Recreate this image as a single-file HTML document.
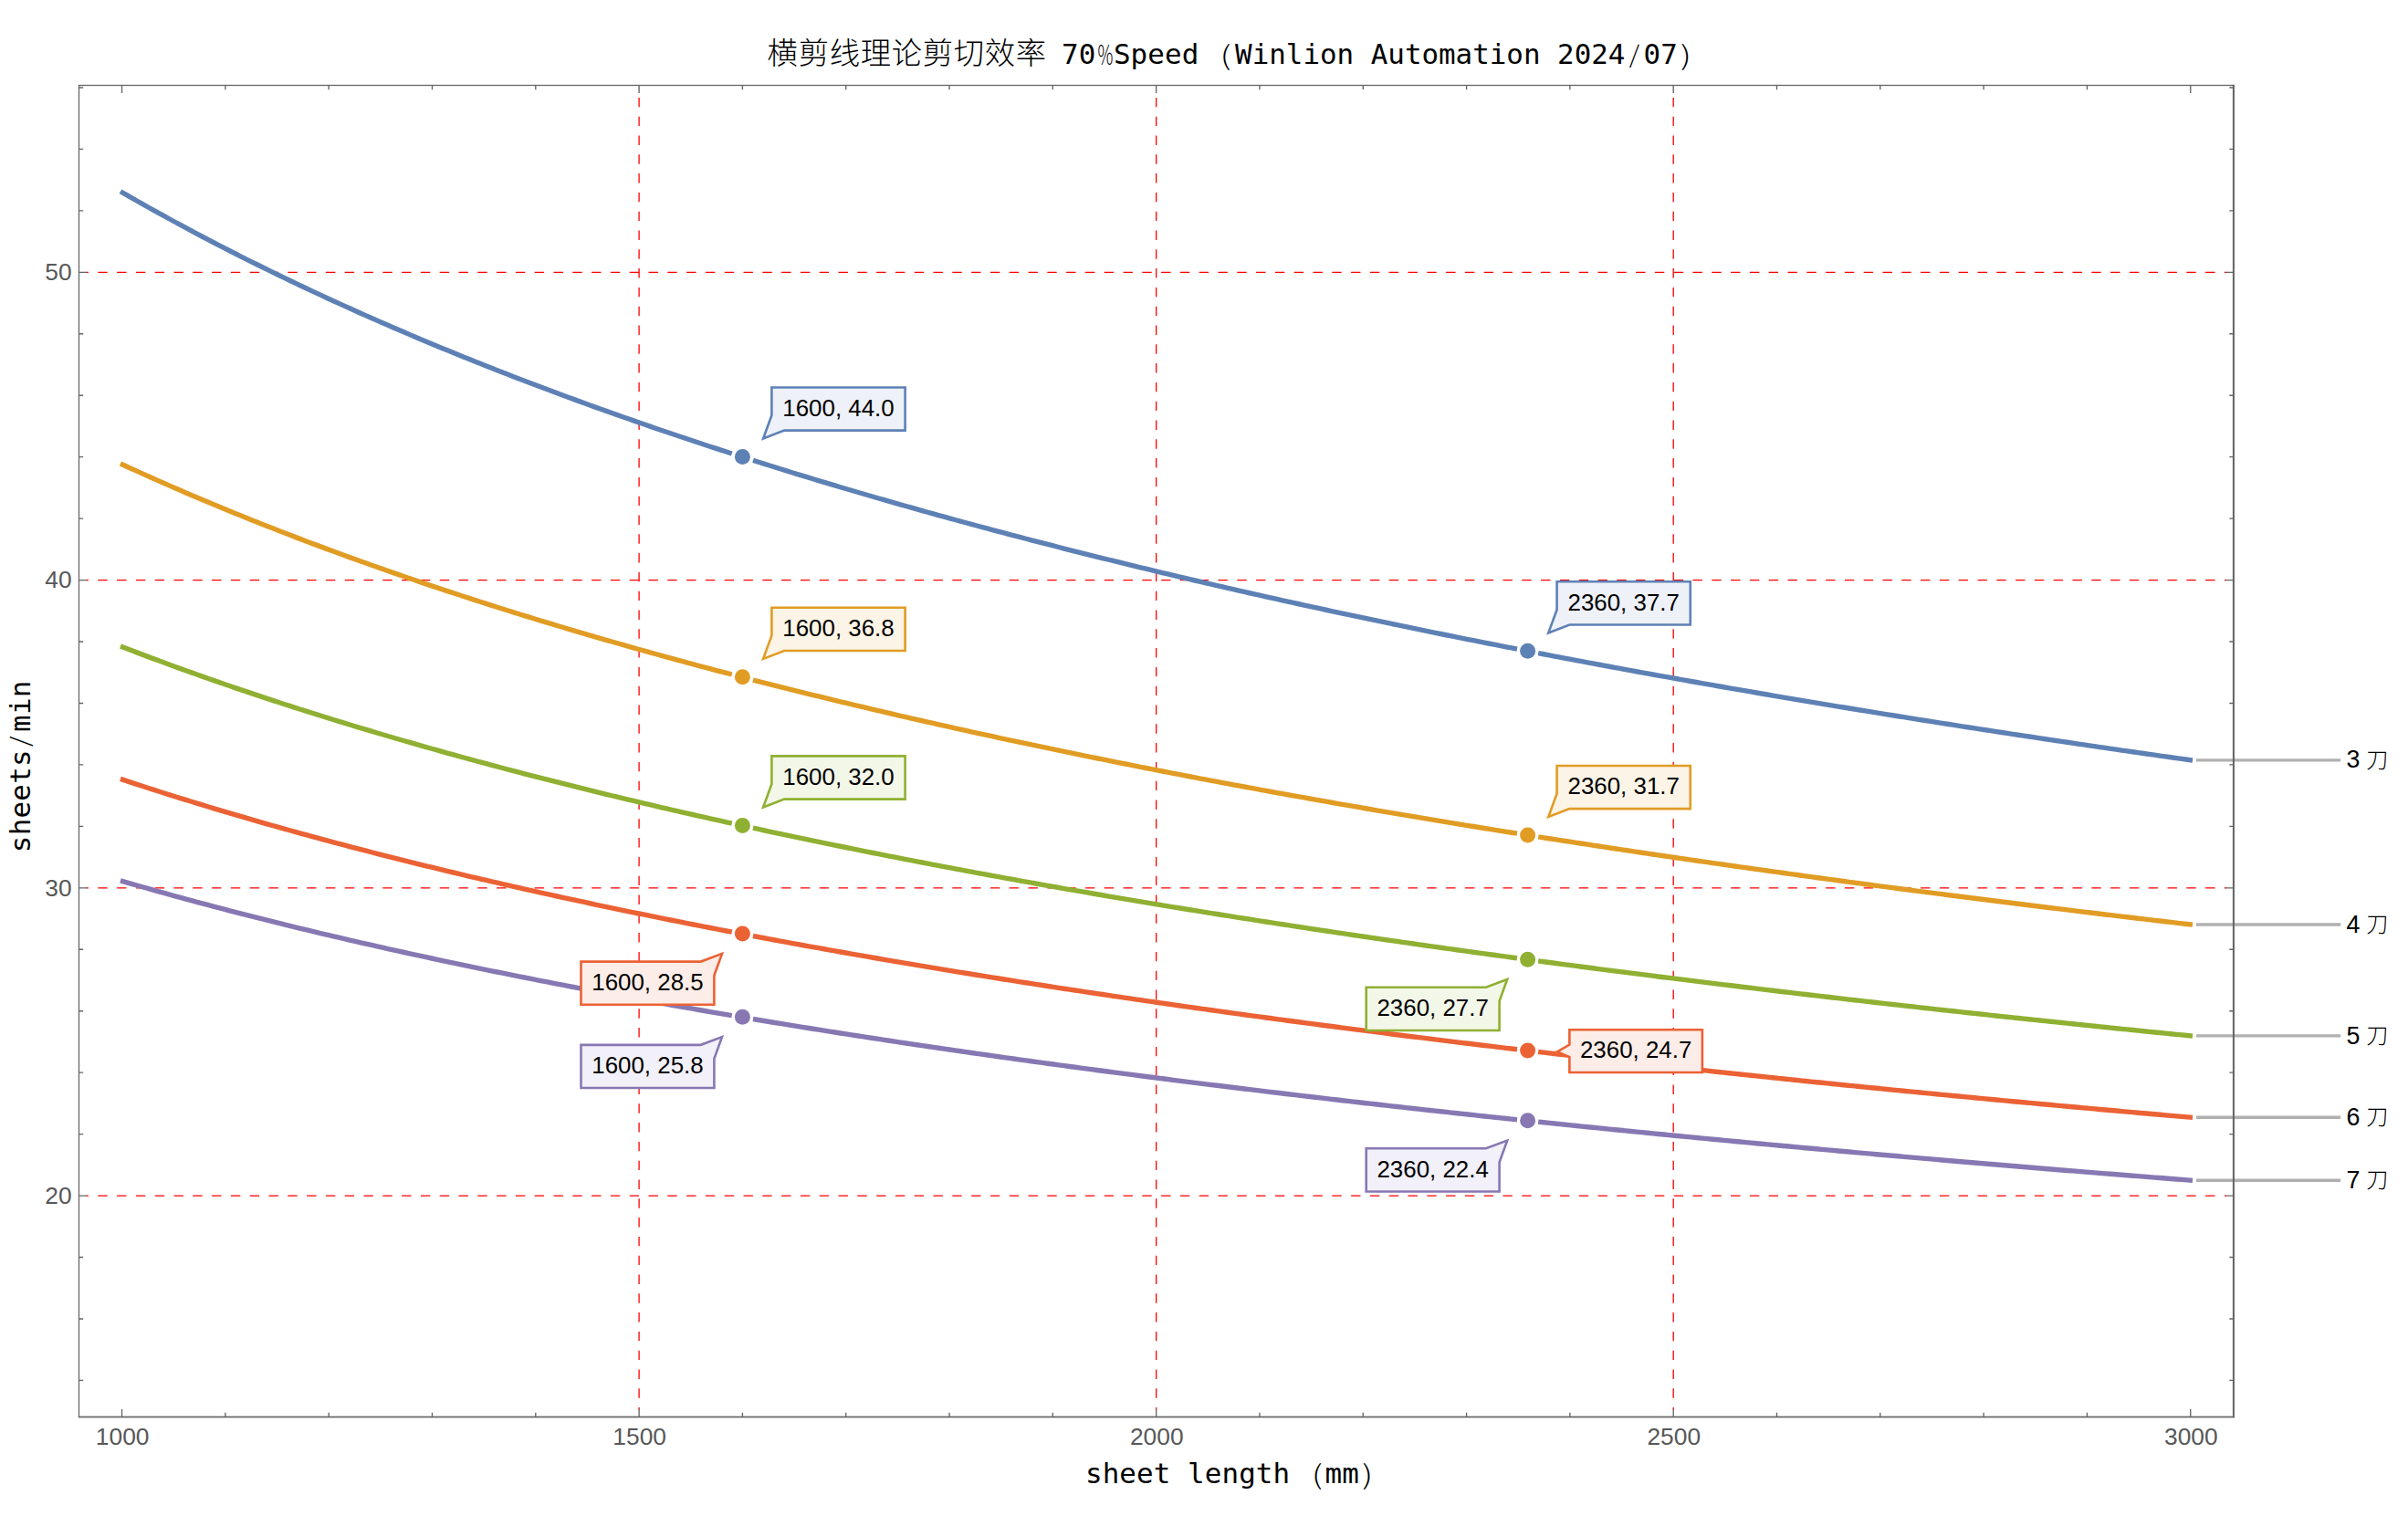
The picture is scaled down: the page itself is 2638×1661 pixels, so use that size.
<!DOCTYPE html>
<html lang="zh"><head><meta charset="utf-8"><title>横剪线理论剪切效率</title>
<style>html,body{margin:0;padding:0;background:#fff;overflow:hidden}svg{display:block}text{white-space:pre}</style></head><body>
<svg width="2638" height="1661" viewBox="0 0 2638 1661">
<rect width="2638" height="1661" fill="#fff"/>
<g stroke="#ff0000" stroke-width="1.3" stroke-dasharray="10.4 10.4" stroke-dashoffset="8.0" fill="none">
<path d="M94.50 298.40H2439.00"/>
<path d="M94.50 635.65H2439.00"/>
<path d="M94.50 972.90H2439.00"/>
<path d="M94.50 1310.15H2439.00"/>
<path d="M700.10 1544.50V101.50"/>
<path d="M1266.65 1544.50V101.50"/>
<path d="M1833.20 1544.50V101.50"/>
</g>
<g fill="none" stroke-width="5.4" stroke-linecap="butt" stroke-linejoin="round">
<path stroke="#5e81b5" d="M131.95 209.74L137.93 213.19L143.91 216.62L149.89 220.02L155.87 223.41L161.85 226.77L167.83 230.11L173.82 233.42L179.80 236.72L185.78 240.00L191.76 243.25L197.74 246.49L203.72 249.71L209.70 252.90L215.68 256.08L221.66 259.24L227.64 262.37L233.62 265.49L239.60 268.59L245.59 271.68L251.57 274.74L257.55 277.78L263.53 280.81L269.51 283.82L275.49 286.81L281.47 289.78L287.45 292.74L293.43 295.68L299.41 298.60L305.39 301.51L311.37 304.40L317.35 307.27L323.34 310.13L329.32 312.97L335.30 315.79L341.28 318.60L347.26 321.39L353.24 324.17L359.22 326.93L365.20 329.68L371.18 332.41L377.16 335.13L383.14 337.83L389.12 340.52L395.11 343.19L401.09 345.85L407.07 348.49L413.05 351.12L419.03 353.74L425.01 356.34L430.99 358.93L436.97 361.51L442.95 364.07L448.93 366.62L454.91 369.15L460.89 371.67L466.87 374.18L472.86 376.68L478.84 379.16L484.82 381.63L490.80 384.09L496.78 386.53L502.76 388.97L508.74 391.39L514.72 393.80L520.70 396.19L526.68 398.58L532.66 400.95L538.64 403.31L544.63 405.66L550.61 408.00L556.59 410.33L562.57 412.65L568.55 414.95L574.53 417.24L580.51 419.53L586.49 421.80L592.47 424.06L598.45 426.31L604.43 428.55L610.41 430.78L616.40 432.99L622.38 435.20L628.36 437.40L634.34 439.59L640.32 441.76L646.30 443.93L652.28 446.09L658.26 448.23L664.24 450.37L670.22 452.50L676.20 454.62L682.18 456.72L688.16 458.82L694.15 460.91L700.13 462.99L706.11 465.06L712.09 467.12L718.07 469.18L724.05 471.22L730.03 473.25L736.01 475.28L741.99 477.29L747.97 479.30L753.95 481.30L759.93 483.29L765.92 485.27L771.90 487.24L777.88 489.21L783.86 491.16L789.84 493.11L795.82 495.05L801.80 496.98M825.00 504.39L830.98 506.28L836.96 508.17L842.94 510.04L848.91 511.91L854.89 513.77L860.87 515.62L866.85 517.46L872.83 519.30L878.81 521.13L884.79 522.95L890.76 524.76L896.74 526.57L902.72 528.37L908.70 530.16L914.68 531.95L920.66 533.73L926.64 535.50L932.61 537.26L938.59 539.02L944.57 540.77L950.55 542.51L956.53 544.25L962.51 545.98L968.49 547.70L974.46 549.41L980.44 551.12L986.42 552.82L992.40 554.52L998.38 556.21L1004.36 557.89L1010.34 559.57L1016.31 561.24L1022.29 562.90L1028.27 564.56L1034.25 566.21L1040.23 567.86L1046.21 569.49L1052.19 571.13L1058.16 572.75L1064.14 574.37L1070.12 575.99L1076.10 577.59L1082.08 579.20L1088.06 580.79L1094.04 582.38L1100.01 583.97L1105.99 585.55L1111.97 587.12L1117.95 588.69L1123.93 590.25L1129.91 591.80L1135.89 593.35L1141.86 594.90L1147.84 596.43L1153.82 597.97L1159.80 599.50L1165.78 601.02L1171.76 602.53L1177.74 604.05L1183.71 605.55L1189.69 607.05L1195.67 608.55L1201.65 610.04L1207.63 611.52L1213.61 613.00L1219.59 614.48L1225.56 615.95L1231.54 617.41L1237.52 618.87L1243.50 620.32L1249.48 621.77L1255.46 623.22L1261.44 624.66L1267.41 626.09L1273.39 627.52L1279.37 628.95L1285.35 630.36L1291.33 631.78L1297.31 633.19L1303.29 634.59L1309.26 636.00L1315.24 637.39L1321.22 638.78L1327.20 640.17L1333.18 641.55L1339.16 642.93L1345.14 644.30L1351.11 645.67L1357.09 647.03L1363.07 648.39L1369.05 649.75L1375.03 651.10L1381.01 652.44L1386.99 653.78L1392.96 655.12L1398.94 656.45L1404.92 657.78L1410.90 659.10L1416.88 660.42L1422.86 661.74L1428.84 663.05L1434.81 664.36L1440.79 665.66L1446.77 666.96L1452.75 668.25L1458.73 669.54L1464.71 670.83L1470.69 672.11L1476.66 673.39L1482.64 674.66L1488.62 675.94L1494.60 677.20L1500.58 678.46L1506.56 679.72L1512.54 680.98L1518.51 682.23L1524.49 683.47L1530.47 684.72L1536.45 685.96L1542.43 687.19L1548.41 688.42L1554.39 689.65L1560.36 690.87L1566.34 692.09L1572.32 693.31L1578.30 694.52L1584.28 695.73L1590.26 696.94L1596.24 698.14L1602.21 699.34L1608.19 700.53L1614.17 701.72L1620.15 702.91L1626.13 704.09L1632.11 705.27L1638.09 706.45L1644.06 707.62L1650.04 708.79L1656.02 709.96L1662.00 711.12M1685.20 715.60L1691.17 716.75L1697.15 717.89L1703.12 719.03L1709.09 720.16L1715.07 721.30L1721.04 722.42L1727.02 723.55L1732.99 724.67L1738.96 725.79L1744.94 726.91L1750.91 728.02L1756.88 729.13L1762.86 730.24L1768.83 731.34L1774.81 732.44L1780.78 733.54L1786.75 734.63L1792.73 735.72L1798.70 736.81L1804.67 737.90L1810.65 738.98L1816.62 740.06L1822.60 741.13L1828.57 742.20L1834.54 743.27L1840.52 744.34L1846.49 745.40L1852.46 746.47L1858.44 747.52L1864.41 748.58L1870.39 749.63L1876.36 750.68L1882.33 751.73L1888.31 752.77L1894.28 753.81L1900.25 754.85L1906.23 755.88L1912.20 756.92L1918.18 757.95L1924.15 758.97L1930.12 760.00L1936.10 761.02L1942.07 762.04L1948.05 763.05L1954.02 764.07L1959.99 765.08L1965.97 766.08L1971.94 767.09L1977.91 768.09L1983.89 769.09L1989.86 770.09L1995.84 771.08L2001.81 772.07L2007.78 773.06L2013.76 774.05L2019.73 775.03L2025.70 776.01L2031.68 776.99L2037.65 777.97L2043.62 778.94L2049.60 779.92L2055.57 780.88L2061.55 781.85L2067.52 782.81L2073.49 783.78L2079.47 784.73L2085.44 785.69L2091.41 786.64L2097.39 787.60L2103.36 788.55L2109.34 789.49L2115.31 790.44L2121.28 791.38L2127.26 792.32L2133.23 793.25L2139.20 794.19L2145.18 795.12L2151.15 796.05L2157.13 796.98L2163.10 797.90L2169.07 798.83L2175.05 799.75L2181.02 800.67L2186.99 801.58L2192.97 802.50L2198.94 803.41L2204.92 804.32L2210.89 805.23L2216.86 806.13L2222.84 807.03L2228.81 807.93L2234.79 808.83L2240.76 809.73L2246.73 810.62L2252.71 811.51L2258.68 812.40L2264.65 813.29L2270.63 814.18L2276.60 815.06L2282.57 815.94L2288.55 816.82L2294.52 817.70L2300.50 818.57L2306.47 819.44L2312.44 820.31L2318.42 821.18L2324.39 822.05L2330.37 822.91L2336.34 823.77L2342.31 824.63L2348.29 825.49L2354.26 826.35L2360.23 827.20L2366.21 828.05L2372.18 828.90L2378.16 829.75L2384.13 830.60L2390.10 831.44L2396.08 832.28L2402.05 833.12"/>
<path stroke="#e19c24" d="M131.95 507.94L137.93 510.70L143.91 513.44L149.89 516.16L155.87 518.86L161.85 521.55L167.83 524.22L173.82 526.88L179.80 529.52L185.78 532.14L191.76 534.75L197.74 537.34L203.72 539.91L209.70 542.47L215.68 545.01L221.66 547.54L227.64 550.06L233.62 552.56L239.60 555.04L245.59 557.51L251.57 559.97L257.55 562.41L263.53 564.83L269.51 567.25L275.49 569.65L281.47 572.03L287.45 574.40L293.43 576.76L299.41 579.11L305.39 581.44L311.37 583.76L317.35 586.06L323.34 588.36L329.32 590.64L335.30 592.91L341.28 595.16L347.26 597.40L353.24 599.64L359.22 601.86L365.20 604.06L371.18 606.26L377.16 608.44L383.14 610.61L389.12 612.77L395.11 614.92L401.09 617.06L407.07 619.19L413.05 621.30L419.03 623.41L425.01 625.50L430.99 627.58L436.97 629.66L442.95 631.72L448.93 633.77L454.91 635.81L460.89 637.84L466.87 639.86L472.86 641.87L478.84 643.87L484.82 645.86L490.80 647.84L496.78 649.81L502.76 651.77L508.74 653.72L514.72 655.66L520.70 657.59L526.68 659.51L532.66 661.43L538.64 663.33L544.63 665.23L550.61 667.11L556.59 668.99L562.57 670.86L568.55 672.71L574.53 674.56L580.51 676.41L586.49 678.24L592.47 680.06L598.45 681.88L604.43 683.69L610.41 685.48L616.40 687.27L622.38 689.06L628.36 690.83L634.34 692.60L640.32 694.36L646.30 696.11L652.28 697.85L658.26 699.58L664.24 701.31L670.22 703.03L676.20 704.74L682.18 706.44L688.16 708.14L694.15 709.83L700.13 711.51L706.11 713.18L712.09 714.85L718.07 716.51L724.05 718.16L730.03 719.80L736.01 721.44L741.99 723.07L747.97 724.70L753.95 726.31L759.93 727.92L765.92 729.53L771.90 731.12L777.88 732.71L783.86 734.29L789.84 735.87L795.82 737.44L801.80 739.00M825.00 745.01L830.98 746.54L836.96 748.06L842.94 749.58L848.91 751.09L854.89 752.60L860.87 754.10L866.85 755.59L872.83 757.08L878.81 758.56L884.79 760.04L890.76 761.51L896.74 762.98L902.72 764.43L908.70 765.89L914.68 767.33L920.66 768.78L926.64 770.21L932.61 771.64L938.59 773.07L944.57 774.49L950.55 775.90L956.53 777.31L962.51 778.71L968.49 780.11L974.46 781.50L980.44 782.89L986.42 784.27L992.40 785.65L998.38 787.02L1004.36 788.38L1010.34 789.75L1016.31 791.10L1022.29 792.45L1028.27 793.80L1034.25 795.14L1040.23 796.47L1046.21 797.80L1052.19 799.13L1058.16 800.45L1064.14 801.77L1070.12 803.08L1076.10 804.38L1082.08 805.69L1088.06 806.98L1094.04 808.28L1100.01 809.56L1105.99 810.85L1111.97 812.12L1117.95 813.40L1123.93 814.67L1129.91 815.93L1135.89 817.19L1141.86 818.45L1147.84 819.70L1153.82 820.95L1159.80 822.19L1165.78 823.43L1171.76 824.66L1177.74 825.89L1183.71 827.12L1189.69 828.34L1195.67 829.55L1201.65 830.77L1207.63 831.97L1213.61 833.18L1219.59 834.38L1225.56 835.57L1231.54 836.77L1237.52 837.95L1243.50 839.14L1249.48 840.32L1255.46 841.49L1261.44 842.66L1267.41 843.83L1273.39 845.00L1279.37 846.16L1285.35 847.31L1291.33 848.46L1297.31 849.61L1303.29 850.76L1309.26 851.90L1315.24 853.03L1321.22 854.17L1327.20 855.30L1333.18 856.42L1339.16 857.55L1345.14 858.66L1351.11 859.78L1357.09 860.89L1363.07 862.00L1369.05 863.10L1375.03 864.20L1381.01 865.30L1386.99 866.39L1392.96 867.48L1398.94 868.57L1404.92 869.65L1410.90 870.73L1416.88 871.81L1422.86 872.88L1428.84 873.95L1434.81 875.02L1440.79 876.08L1446.77 877.14L1452.75 878.19L1458.73 879.25L1464.71 880.30L1470.69 881.34L1476.66 882.39L1482.64 883.43L1488.62 884.46L1494.60 885.50L1500.58 886.53L1506.56 887.55L1512.54 888.58L1518.51 889.60L1524.49 890.62L1530.47 891.63L1536.45 892.64L1542.43 893.65L1548.41 894.66L1554.39 895.66L1560.36 896.66L1566.34 897.65L1572.32 898.65L1578.30 899.64L1584.28 900.62L1590.26 901.61L1596.24 902.59L1602.21 903.57L1608.19 904.55L1614.17 905.52L1620.15 906.49L1626.13 907.46L1632.11 908.42L1638.09 909.38L1644.06 910.34L1650.04 911.30L1656.02 912.25L1662.00 913.20M1685.20 916.86L1691.17 917.80L1697.15 918.73L1703.12 919.66L1709.09 920.59L1715.07 921.52L1721.04 922.44L1727.02 923.36L1732.99 924.28L1738.96 925.19L1744.94 926.11L1750.91 927.02L1756.88 927.93L1762.86 928.83L1768.83 929.73L1774.81 930.63L1780.78 931.53L1786.75 932.43L1792.73 933.32L1798.70 934.21L1804.67 935.10L1810.65 935.98L1816.62 936.87L1822.60 937.75L1828.57 938.62L1834.54 939.50L1840.52 940.37L1846.49 941.24L1852.46 942.11L1858.44 942.98L1864.41 943.84L1870.39 944.70L1876.36 945.56L1882.33 946.42L1888.31 947.27L1894.28 948.13L1900.25 948.98L1906.23 949.82L1912.20 950.67L1918.18 951.51L1924.15 952.35L1930.12 953.19L1936.10 954.03L1942.07 954.86L1948.05 955.70L1954.02 956.53L1959.99 957.35L1965.97 958.18L1971.94 959.00L1977.91 959.82L1983.89 960.64L1989.86 961.46L1995.84 962.28L2001.81 963.09L2007.78 963.90L2013.76 964.71L2019.73 965.51L2025.70 966.32L2031.68 967.12L2037.65 967.92L2043.62 968.72L2049.60 969.52L2055.57 970.31L2061.55 971.10L2067.52 971.89L2073.49 972.68L2079.47 973.47L2085.44 974.25L2091.41 975.03L2097.39 975.81L2103.36 976.59L2109.34 977.37L2115.31 978.14L2121.28 978.92L2127.26 979.69L2133.23 980.46L2139.20 981.22L2145.18 981.99L2151.15 982.75L2157.13 983.51L2163.10 984.27L2169.07 985.03L2175.05 985.78L2181.02 986.54L2186.99 987.29L2192.97 988.04L2198.94 988.79L2204.92 989.53L2210.89 990.28L2216.86 991.02L2222.84 991.76L2228.81 992.50L2234.79 993.24L2240.76 993.98L2246.73 994.71L2252.71 995.44L2258.68 996.17L2264.65 996.90L2270.63 997.63L2276.60 998.35L2282.57 999.08L2288.55 999.80L2294.52 1000.52L2300.50 1001.24L2306.47 1001.95L2312.44 1002.67L2318.42 1003.38L2324.39 1004.09L2330.37 1004.80L2336.34 1005.51L2342.31 1006.22L2348.29 1006.92L2354.26 1007.63L2360.23 1008.33L2366.21 1009.03L2372.18 1009.73L2378.16 1010.42L2384.13 1011.12L2390.10 1011.81L2396.08 1012.50L2402.05 1013.19"/>
<path stroke="#8fb032" d="M131.95 708.01L137.93 710.31L143.91 712.60L149.89 714.88L155.87 717.14L161.85 719.39L167.83 721.62L173.82 723.84L179.80 726.05L185.78 728.24L191.76 730.42L197.74 732.59L203.72 734.74L209.70 736.89L215.68 739.01L221.66 741.13L227.64 743.24L233.62 745.33L239.60 747.41L245.59 749.48L251.57 751.53L257.55 753.58L263.53 755.61L269.51 757.63L275.49 759.64L281.47 761.64L287.45 763.63L293.43 765.61L299.41 767.57L305.39 769.53L311.37 771.47L317.35 773.41L323.34 775.33L329.32 777.24L335.30 779.15L341.28 781.04L347.26 782.92L353.24 784.79L359.22 786.65L365.20 788.51L371.18 790.35L377.16 792.18L383.14 794.01L389.12 795.82L395.11 797.62L401.09 799.42L407.07 801.21L413.05 802.98L419.03 804.75L425.01 806.51L430.99 808.26L436.97 810.00L442.95 811.73L448.93 813.45L454.91 815.17L460.89 816.88L466.87 818.57L472.86 820.26L478.84 821.95L484.82 823.62L490.80 825.28L496.78 826.94L502.76 828.59L508.74 830.23L514.72 831.86L520.70 833.49L526.68 835.11L532.66 836.71L538.64 838.32L544.63 839.91L550.61 841.50L556.59 843.08L562.57 844.65L568.55 846.22L574.53 847.77L580.51 849.32L586.49 850.87L592.47 852.40L598.45 853.93L604.43 855.45L610.41 856.97L616.40 858.48L622.38 859.98L628.36 861.47L634.34 862.96L640.32 864.44L646.30 865.92L652.28 867.39L658.26 868.85L664.24 870.30L670.22 871.75L676.20 873.20L682.18 874.63L688.16 876.06L694.15 877.49L700.13 878.90L706.11 880.32L712.09 881.72L718.07 883.12L724.05 884.51L730.03 885.90L736.01 887.28L741.99 888.66L747.97 890.03L753.95 891.39L759.93 892.75L765.92 894.11L771.90 895.45L777.88 896.80L783.86 898.13L789.84 899.46L795.82 900.79L801.80 902.11M825.00 907.18L830.98 908.47L836.96 909.76L842.94 911.04L848.91 912.32L854.89 913.59L860.87 914.86L866.85 916.12L872.83 917.38L878.81 918.63L884.79 919.88L890.76 921.12L896.74 922.36L902.72 923.60L908.70 924.82L914.68 926.05L920.66 927.27L926.64 928.48L932.61 929.69L938.59 930.90L944.57 932.10L950.55 933.29L956.53 934.48L962.51 935.67L968.49 936.85L974.46 938.03L980.44 939.20L986.42 940.37L992.40 941.54L998.38 942.70L1004.36 943.85L1010.34 945.01L1016.31 946.15L1022.29 947.30L1028.27 948.44L1034.25 949.57L1040.23 950.70L1046.21 951.83L1052.19 952.95L1058.16 954.07L1064.14 955.18L1070.12 956.29L1076.10 957.40L1082.08 958.50L1088.06 959.60L1094.04 960.70L1100.01 961.79L1105.99 962.87L1111.97 963.96L1117.95 965.04L1123.93 966.11L1129.91 967.18L1135.89 968.25L1141.86 969.32L1147.84 970.38L1153.82 971.43L1159.80 972.49L1165.78 973.54L1171.76 974.58L1177.74 975.62L1183.71 976.66L1189.69 977.70L1195.67 978.73L1201.65 979.76L1207.63 980.78L1213.61 981.80L1219.59 982.82L1225.56 983.84L1231.54 984.85L1237.52 985.85L1243.50 986.86L1249.48 987.86L1255.46 988.86L1261.44 989.85L1267.41 990.84L1273.39 991.83L1279.37 992.81L1285.35 993.79L1291.33 994.77L1297.31 995.75L1303.29 996.72L1309.26 997.69L1315.24 998.65L1321.22 999.61L1327.20 1000.57L1333.18 1001.53L1339.16 1002.48L1345.14 1003.43L1351.11 1004.38L1357.09 1005.32L1363.07 1006.26L1369.05 1007.20L1375.03 1008.13L1381.01 1009.07L1386.99 1009.99L1392.96 1010.92L1398.94 1011.84L1404.92 1012.76L1410.90 1013.68L1416.88 1014.59L1422.86 1015.51L1428.84 1016.41L1434.81 1017.32L1440.79 1018.22L1446.77 1019.12L1452.75 1020.02L1458.73 1020.92L1464.71 1021.81L1470.69 1022.70L1476.66 1023.58L1482.64 1024.47L1488.62 1025.35L1494.60 1026.23L1500.58 1027.10L1506.56 1027.98L1512.54 1028.85L1518.51 1029.71L1524.49 1030.58L1530.47 1031.44L1536.45 1032.30L1542.43 1033.16L1548.41 1034.01L1554.39 1034.87L1560.36 1035.72L1566.34 1036.56L1572.32 1037.41L1578.30 1038.25L1584.28 1039.09L1590.26 1039.93L1596.24 1040.76L1602.21 1041.60L1608.19 1042.43L1614.17 1043.26L1620.15 1044.08L1626.13 1044.90L1632.11 1045.72L1638.09 1046.54L1644.06 1047.36L1650.04 1048.17L1656.02 1048.98L1662.00 1049.79M1685.20 1052.91L1691.17 1053.71L1697.15 1054.50L1703.12 1055.30L1709.09 1056.09L1715.07 1056.87L1721.04 1057.66L1727.02 1058.44L1732.99 1059.23L1738.96 1060.01L1744.94 1060.78L1750.91 1061.56L1756.88 1062.33L1762.86 1063.10L1768.83 1063.87L1774.81 1064.64L1780.78 1065.40L1786.75 1066.16L1792.73 1066.93L1798.70 1067.68L1804.67 1068.44L1810.65 1069.19L1816.62 1069.95L1822.60 1070.70L1828.57 1071.44L1834.54 1072.19L1840.52 1072.94L1846.49 1073.68L1852.46 1074.42L1858.44 1075.16L1864.41 1075.89L1870.39 1076.63L1876.36 1077.36L1882.33 1078.09L1888.31 1078.82L1894.28 1079.54L1900.25 1080.27L1906.23 1080.99L1912.20 1081.71L1918.18 1082.43L1924.15 1083.15L1930.12 1083.86L1936.10 1084.58L1942.07 1085.29L1948.05 1086.00L1954.02 1086.71L1959.99 1087.41L1965.97 1088.12L1971.94 1088.82L1977.91 1089.52L1983.89 1090.22L1989.86 1090.92L1995.84 1091.61L2001.81 1092.30L2007.78 1093.00L2013.76 1093.69L2019.73 1094.37L2025.70 1095.06L2031.68 1095.75L2037.65 1096.43L2043.62 1097.11L2049.60 1097.79L2055.57 1098.47L2061.55 1099.14L2067.52 1099.82L2073.49 1100.49L2079.47 1101.16L2085.44 1101.83L2091.41 1102.50L2097.39 1103.16L2103.36 1103.83L2109.34 1104.49L2115.31 1105.15L2121.28 1105.81L2127.26 1106.47L2133.23 1107.13L2139.20 1107.78L2145.18 1108.44L2151.15 1109.09L2157.13 1109.74L2163.10 1110.39L2169.07 1111.03L2175.05 1111.68L2181.02 1112.32L2186.99 1112.96L2192.97 1113.60L2198.94 1114.24L2204.92 1114.88L2210.89 1115.52L2216.86 1116.15L2222.84 1116.78L2228.81 1117.42L2234.79 1118.05L2240.76 1118.67L2246.73 1119.30L2252.71 1119.93L2258.68 1120.55L2264.65 1121.17L2270.63 1121.79L2276.60 1122.41L2282.57 1123.03L2288.55 1123.65L2294.52 1124.26L2300.50 1124.88L2306.47 1125.49L2312.44 1126.10L2318.42 1126.71L2324.39 1127.32L2330.37 1127.93L2336.34 1128.53L2342.31 1129.14L2348.29 1129.74L2354.26 1130.34L2360.23 1130.94L2366.21 1131.54L2372.18 1132.13L2378.16 1132.73L2384.13 1133.32L2390.10 1133.92L2396.08 1134.51L2402.05 1135.10"/>
<path stroke="#eb6235" d="M131.95 853.43L137.93 855.41L143.91 857.38L149.89 859.33L155.87 861.28L161.85 863.21L167.83 865.14L173.82 867.05L179.80 868.95L185.78 870.84L191.76 872.71L197.74 874.58L203.72 876.44L209.70 878.28L215.68 880.11L221.66 881.94L227.64 883.75L233.62 885.55L239.60 887.35L245.59 889.13L251.57 890.90L257.55 892.66L263.53 894.42L269.51 896.16L275.49 897.89L281.47 899.62L287.45 901.33L293.43 903.03L299.41 904.73L305.39 906.42L311.37 908.09L317.35 909.76L323.34 911.42L329.32 913.07L335.30 914.71L341.28 916.35L347.26 917.97L353.24 919.59L359.22 921.19L365.20 922.79L371.18 924.38L377.16 925.97L383.14 927.54L389.12 929.11L395.11 930.67L401.09 932.22L407.07 933.76L413.05 935.29L419.03 936.82L425.01 938.34L430.99 939.85L436.97 941.36L442.95 942.85L448.93 944.34L454.91 945.83L460.89 947.30L466.87 948.77L472.86 950.23L478.84 951.68L484.82 953.13L490.80 954.57L496.78 956.00L502.76 957.43L508.74 958.85L514.72 960.26L520.70 961.67L526.68 963.07L532.66 964.46L538.64 965.84L544.63 967.22L550.61 968.60L556.59 969.96L562.57 971.33L568.55 972.68L574.53 974.03L580.51 975.37L586.49 976.71L592.47 978.04L598.45 979.36L604.43 980.68L610.41 981.99L616.40 983.30L622.38 984.60L628.36 985.89L634.34 987.18L640.32 988.47L646.30 989.74L652.28 991.02L658.26 992.28L664.24 993.54L670.22 994.80L676.20 996.05L682.18 997.29L688.16 998.53L694.15 999.77L700.13 1001.00L706.11 1002.22L712.09 1003.44L718.07 1004.65L724.05 1005.86L730.03 1007.07L736.01 1008.26L741.99 1009.46L747.97 1010.65L753.95 1011.83L759.93 1013.01L765.92 1014.18L771.90 1015.35L777.88 1016.51L783.86 1017.67L789.84 1018.83L795.82 1019.98L801.80 1021.12M825.00 1025.52L830.98 1026.65L836.96 1027.76L842.94 1028.88L848.91 1029.99L854.89 1031.09L860.87 1032.19L866.85 1033.29L872.83 1034.38L878.81 1035.47L884.79 1036.55L890.76 1037.63L896.74 1038.71L902.72 1039.78L908.70 1040.85L914.68 1041.91L920.66 1042.97L926.64 1044.03L932.61 1045.08L938.59 1046.12L944.57 1047.17L950.55 1048.21L956.53 1049.24L962.51 1050.27L968.49 1051.30L974.46 1052.33L980.44 1053.35L986.42 1054.36L992.40 1055.37L998.38 1056.38L1004.36 1057.39L1010.34 1058.39L1016.31 1059.39L1022.29 1060.38L1028.27 1061.37L1034.25 1062.36L1040.23 1063.34L1046.21 1064.32L1052.19 1065.30L1058.16 1066.27L1064.14 1067.24L1070.12 1068.21L1076.10 1069.17L1082.08 1070.13L1088.06 1071.09L1094.04 1072.04L1100.01 1072.99L1105.99 1073.93L1111.97 1074.88L1117.95 1075.82L1123.93 1076.75L1129.91 1077.68L1135.89 1078.61L1141.86 1079.54L1147.84 1080.46L1153.82 1081.38L1159.80 1082.30L1165.78 1083.21L1171.76 1084.13L1177.74 1085.03L1183.71 1085.94L1189.69 1086.84L1195.67 1087.74L1201.65 1088.63L1207.63 1089.53L1213.61 1090.41L1219.59 1091.30L1225.56 1092.18L1231.54 1093.07L1237.52 1093.94L1243.50 1094.82L1249.48 1095.69L1255.46 1096.56L1261.44 1097.43L1267.41 1098.29L1273.39 1099.15L1279.37 1100.01L1285.35 1100.86L1291.33 1101.71L1297.31 1102.56L1303.29 1103.41L1309.26 1104.25L1315.24 1105.10L1321.22 1105.93L1327.20 1106.77L1333.18 1107.60L1339.16 1108.43L1345.14 1109.26L1351.11 1110.09L1357.09 1110.91L1363.07 1111.73L1369.05 1112.55L1375.03 1113.36L1381.01 1114.18L1386.99 1114.99L1392.96 1115.79L1398.94 1116.60L1404.92 1117.40L1410.90 1118.20L1416.88 1119.00L1422.86 1119.79L1428.84 1120.59L1434.81 1121.38L1440.79 1122.16L1446.77 1122.95L1452.75 1123.73L1458.73 1124.51L1464.71 1125.29L1470.69 1126.07L1476.66 1126.84L1482.64 1127.61L1488.62 1128.38L1494.60 1129.15L1500.58 1129.91L1506.56 1130.68L1512.54 1131.44L1518.51 1132.19L1524.49 1132.95L1530.47 1133.70L1536.45 1134.45L1542.43 1135.20L1548.41 1135.95L1554.39 1136.69L1560.36 1137.43L1566.34 1138.17L1572.32 1138.91L1578.30 1139.65L1584.28 1140.38L1590.26 1141.11L1596.24 1141.84L1602.21 1142.57L1608.19 1143.30L1614.17 1144.02L1620.15 1144.74L1626.13 1145.46L1632.11 1146.18L1638.09 1146.89L1644.06 1147.60L1650.04 1148.31L1656.02 1149.02L1662.00 1149.73M1685.20 1152.45L1691.17 1153.15L1697.15 1153.85L1703.12 1154.54L1709.09 1155.23L1715.07 1155.92L1721.04 1156.61L1727.02 1157.29L1732.99 1157.97L1738.96 1158.66L1744.94 1159.34L1750.91 1160.01L1756.88 1160.69L1762.86 1161.36L1768.83 1162.04L1774.81 1162.71L1780.78 1163.37L1786.75 1164.04L1792.73 1164.71L1798.70 1165.37L1804.67 1166.03L1810.65 1166.69L1816.62 1167.35L1822.60 1168.00L1828.57 1168.66L1834.54 1169.31L1840.52 1169.96L1846.49 1170.61L1852.46 1171.26L1858.44 1171.91L1864.41 1172.55L1870.39 1173.19L1876.36 1173.83L1882.33 1174.47L1888.31 1175.11L1894.28 1175.74L1900.25 1176.38L1906.23 1177.01L1912.20 1177.64L1918.18 1178.27L1924.15 1178.90L1930.12 1179.52L1936.10 1180.15L1942.07 1180.77L1948.05 1181.39L1954.02 1182.01L1959.99 1182.63L1965.97 1183.25L1971.94 1183.86L1977.91 1184.47L1983.89 1185.09L1989.86 1185.70L1995.84 1186.31L2001.81 1186.91L2007.78 1187.52L2013.76 1188.12L2019.73 1188.72L2025.70 1189.33L2031.68 1189.93L2037.65 1190.52L2043.62 1191.12L2049.60 1191.72L2055.57 1192.31L2061.55 1192.90L2067.52 1193.49L2073.49 1194.08L2079.47 1194.67L2085.44 1195.26L2091.41 1195.84L2097.39 1196.42L2103.36 1197.01L2109.34 1197.59L2115.31 1198.17L2121.28 1198.74L2127.26 1199.32L2133.23 1199.89L2139.20 1200.47L2145.18 1201.04L2151.15 1201.61L2157.13 1202.18L2163.10 1202.75L2169.07 1203.32L2175.05 1203.88L2181.02 1204.45L2186.99 1205.01L2192.97 1205.57L2198.94 1206.13L2204.92 1206.69L2210.89 1207.25L2216.86 1207.80L2222.84 1208.36L2228.81 1208.91L2234.79 1209.46L2240.76 1210.01L2246.73 1210.56L2252.71 1211.11L2258.68 1211.66L2264.65 1212.20L2270.63 1212.75L2276.60 1213.29L2282.57 1213.83L2288.55 1214.37L2294.52 1214.91L2300.50 1215.45L2306.47 1215.99L2312.44 1216.53L2318.42 1217.06L2324.39 1217.59L2330.37 1218.13L2336.34 1218.66L2342.31 1219.19L2348.29 1219.71L2354.26 1220.24L2360.23 1220.77L2366.21 1221.29L2372.18 1221.82L2378.16 1222.34L2384.13 1222.86L2390.10 1223.38L2396.08 1223.90L2402.05 1224.42"/>
<path stroke="#8778b3" d="M131.95 964.84L137.93 966.58L143.91 968.31L149.89 970.03L155.87 971.74L161.85 973.44L167.83 975.13L173.82 976.80L179.80 978.47L185.78 980.13L191.76 981.78L197.74 983.42L203.72 985.05L209.70 986.67L215.68 988.29L221.66 989.89L227.64 991.48L233.62 993.07L239.60 994.64L245.59 996.21L251.57 997.77L257.55 999.32L263.53 1000.86L269.51 1002.39L275.49 1003.92L281.47 1005.43L287.45 1006.94L293.43 1008.44L299.41 1009.93L305.39 1011.42L311.37 1012.89L317.35 1014.36L323.34 1015.82L329.32 1017.28L335.30 1018.72L341.28 1020.16L347.26 1021.59L353.24 1023.01L359.22 1024.43L365.20 1025.83L371.18 1027.24L377.16 1028.63L383.14 1030.02L389.12 1031.40L395.11 1032.77L401.09 1034.14L407.07 1035.49L413.05 1036.85L419.03 1038.19L425.01 1039.53L430.99 1040.86L436.97 1042.19L442.95 1043.51L448.93 1044.82L454.91 1046.13L460.89 1047.43L466.87 1048.73L472.86 1050.01L478.84 1051.30L484.82 1052.57L490.80 1053.84L496.78 1055.10L502.76 1056.36L508.74 1057.61L514.72 1058.86L520.70 1060.10L526.68 1061.34L532.66 1062.56L538.64 1063.79L544.63 1065.01L550.61 1066.22L556.59 1067.42L562.57 1068.62L568.55 1069.82L574.53 1071.01L580.51 1072.20L586.49 1073.38L592.47 1074.55L598.45 1075.72L604.43 1076.88L610.41 1078.04L616.40 1079.20L622.38 1080.34L628.36 1081.49L634.34 1082.63L640.32 1083.76L646.30 1084.89L652.28 1086.01L658.26 1087.13L664.24 1088.25L670.22 1089.36L676.20 1090.46L682.18 1091.56L688.16 1092.66L694.15 1093.75L700.13 1094.83L706.11 1095.92L712.09 1096.99L718.07 1098.07L724.05 1099.13L730.03 1100.20L736.01 1101.26L741.99 1102.31L747.97 1103.36L753.95 1104.41L759.93 1105.45L765.92 1106.49L771.90 1107.52L777.88 1108.55L783.86 1109.58L789.84 1110.60L795.82 1111.62L801.80 1112.63M825.00 1116.53L830.98 1117.52L836.96 1118.51L842.94 1119.49L848.91 1120.48L854.89 1121.45L860.87 1122.43L866.85 1123.40L872.83 1124.37L878.81 1125.33L884.79 1126.29L890.76 1127.25L896.74 1128.20L902.72 1129.15L908.70 1130.09L914.68 1131.03L920.66 1131.97L926.64 1132.91L932.61 1133.84L938.59 1134.76L944.57 1135.69L950.55 1136.61L956.53 1137.53L962.51 1138.44L968.49 1139.35L974.46 1140.26L980.44 1141.16L986.42 1142.06L992.40 1142.96L998.38 1143.85L1004.36 1144.74L1010.34 1145.63L1016.31 1146.52L1022.29 1147.40L1028.27 1148.27L1034.25 1149.15L1040.23 1150.02L1046.21 1150.89L1052.19 1151.76L1058.16 1152.62L1064.14 1153.48L1070.12 1154.34L1076.10 1155.19L1082.08 1156.04L1088.06 1156.89L1094.04 1157.73L1100.01 1158.57L1105.99 1159.41L1111.97 1160.25L1117.95 1161.08L1123.93 1161.91L1129.91 1162.74L1135.89 1163.56L1141.86 1164.39L1147.84 1165.20L1153.82 1166.02L1159.80 1166.83L1165.78 1167.65L1171.76 1168.45L1177.74 1169.26L1183.71 1170.06L1189.69 1170.86L1195.67 1171.66L1201.65 1172.45L1207.63 1173.25L1213.61 1174.04L1219.59 1174.82L1225.56 1175.61L1231.54 1176.39L1237.52 1177.17L1243.50 1177.94L1249.48 1178.72L1255.46 1179.49L1261.44 1180.26L1267.41 1181.03L1273.39 1181.79L1279.37 1182.55L1285.35 1183.31L1291.33 1184.07L1297.31 1184.82L1303.29 1185.57L1309.26 1186.32L1315.24 1187.07L1321.22 1187.82L1327.20 1188.56L1333.18 1189.30L1339.16 1190.04L1345.14 1190.77L1351.11 1191.50L1357.09 1192.24L1363.07 1192.96L1369.05 1193.69L1375.03 1194.42L1381.01 1195.14L1386.99 1195.86L1392.96 1196.57L1398.94 1197.29L1404.92 1198.00L1410.90 1198.71L1416.88 1199.42L1422.86 1200.13L1428.84 1200.83L1434.81 1201.54L1440.79 1202.24L1446.77 1202.94L1452.75 1203.63L1458.73 1204.33L1464.71 1205.02L1470.69 1205.71L1476.66 1206.40L1482.64 1207.08L1488.62 1207.76L1494.60 1208.45L1500.58 1209.13L1506.56 1209.80L1512.54 1210.48L1518.51 1211.15L1524.49 1211.83L1530.47 1212.49L1536.45 1213.16L1542.43 1213.83L1548.41 1214.49L1554.39 1215.15L1560.36 1215.82L1566.34 1216.47L1572.32 1217.13L1578.30 1217.78L1584.28 1218.44L1590.26 1219.09L1596.24 1219.74L1602.21 1220.38L1608.19 1221.03L1614.17 1221.67L1620.15 1222.31L1626.13 1222.95L1632.11 1223.59L1638.09 1224.23L1644.06 1224.86L1650.04 1225.50L1656.02 1226.13L1662.00 1226.76M1685.20 1229.18L1691.17 1229.80L1697.15 1230.42L1703.12 1231.04L1709.09 1231.65L1715.07 1232.26L1721.04 1232.88L1727.02 1233.49L1732.99 1234.09L1738.96 1234.70L1744.94 1235.31L1750.91 1235.91L1756.88 1236.51L1762.86 1237.11L1768.83 1237.71L1774.81 1238.31L1780.78 1238.90L1786.75 1239.50L1792.73 1240.09L1798.70 1240.68L1804.67 1241.27L1810.65 1241.86L1816.62 1242.44L1822.60 1243.03L1828.57 1243.61L1834.54 1244.19L1840.52 1244.77L1846.49 1245.35L1852.46 1245.93L1858.44 1246.50L1864.41 1247.08L1870.39 1247.65L1876.36 1248.22L1882.33 1248.79L1888.31 1249.36L1894.28 1249.92L1900.25 1250.49L1906.23 1251.05L1912.20 1251.62L1918.18 1252.18L1924.15 1252.74L1930.12 1253.29L1936.10 1253.85L1942.07 1254.40L1948.05 1254.96L1954.02 1255.51L1959.99 1256.06L1965.97 1256.61L1971.94 1257.16L1977.91 1257.71L1983.89 1258.25L1989.86 1258.80L1995.84 1259.34L2001.81 1259.88L2007.78 1260.42L2013.76 1260.96L2019.73 1261.49L2025.70 1262.03L2031.68 1262.57L2037.65 1263.10L2043.62 1263.63L2049.60 1264.16L2055.57 1264.69L2061.55 1265.22L2067.52 1265.75L2073.49 1266.27L2079.47 1266.80L2085.44 1267.32L2091.41 1267.84L2097.39 1268.36L2103.36 1268.88L2109.34 1269.40L2115.31 1269.91L2121.28 1270.43L2127.26 1270.94L2133.23 1271.46L2139.20 1271.97L2145.18 1272.48L2151.15 1272.99L2157.13 1273.50L2163.10 1274.00L2169.07 1274.51L2175.05 1275.01L2181.02 1275.52L2186.99 1276.02L2192.97 1276.52L2198.94 1277.02L2204.92 1277.52L2210.89 1278.02L2216.86 1278.51L2222.84 1279.01L2228.81 1279.50L2234.79 1280.00L2240.76 1280.49L2246.73 1280.98L2252.71 1281.47L2258.68 1281.96L2264.65 1282.44L2270.63 1282.93L2276.60 1283.41L2282.57 1283.90L2288.55 1284.38L2294.52 1284.86L2300.50 1285.34L2306.47 1285.82L2312.44 1286.30L2318.42 1286.78L2324.39 1287.25L2330.37 1287.73L2336.34 1288.20L2342.31 1288.68L2348.29 1289.15L2354.26 1289.62L2360.23 1290.09L2366.21 1290.56L2372.18 1291.02L2378.16 1291.49L2384.13 1291.96L2390.10 1292.42L2396.08 1292.89L2402.05 1293.35"/>
</g>
<g stroke="#b0b0b0" stroke-width="3.4" fill="none">
<path d="M2406 832.85H2564.2"/>
<path d="M2406 1012.98H2564.2"/>
<path d="M2406 1134.92H2564.2"/>
<path d="M2406 1224.27H2564.2"/>
<path d="M2406 1293.22H2564.2"/>
</g>
<g fill="#000">
<text x="2570.6" y="841.45" font-family="'Liberation Sans','Noto Sans CJK SC',sans-serif" font-size="26.8">3</text><text x="2592.3" y="840.95" font-family="'Noto Sans CJK SC','Liberation Sans',sans-serif" font-size="24" font-weight="300">刀</text>
<text x="2570.6" y="1021.58" font-family="'Liberation Sans','Noto Sans CJK SC',sans-serif" font-size="26.8">4</text><text x="2592.3" y="1021.08" font-family="'Noto Sans CJK SC','Liberation Sans',sans-serif" font-size="24" font-weight="300">刀</text>
<text x="2570.6" y="1143.52" font-family="'Liberation Sans','Noto Sans CJK SC',sans-serif" font-size="26.8">5</text><text x="2592.3" y="1143.02" font-family="'Noto Sans CJK SC','Liberation Sans',sans-serif" font-size="24" font-weight="300">刀</text>
<text x="2570.6" y="1232.87" font-family="'Liberation Sans','Noto Sans CJK SC',sans-serif" font-size="26.8">6</text><text x="2592.3" y="1232.37" font-family="'Noto Sans CJK SC','Liberation Sans',sans-serif" font-size="24" font-weight="300">刀</text>
<text x="2570.6" y="1301.82" font-family="'Liberation Sans','Noto Sans CJK SC',sans-serif" font-size="26.8">7</text><text x="2592.3" y="1301.32" font-family="'Noto Sans CJK SC','Liberation Sans',sans-serif" font-size="24" font-weight="300">刀</text>
</g>
<rect x="86.5" y="93.5" width="2360.5" height="1459.0" fill="none" stroke="#666" stroke-width="1.3"/>
<path d="M2446.9 92.85V1553.25" stroke="#666" stroke-width="2" fill="none"/>
<path d="M85.85 1552.4H2447.9" stroke="#666" stroke-width="1.5" fill="none"/>
<path d="M133.55 1552.5v-8.4M133.55 93.5v8.4M246.86 1552.5v-4.7M246.86 93.5v4.7M360.17 1552.5v-4.7M360.17 93.5v4.7M473.48 1552.5v-4.7M473.48 93.5v4.7M586.79 1552.5v-4.7M586.79 93.5v4.7M700.10 1552.5v-8.4M700.10 93.5v8.4M813.41 1552.5v-4.7M813.41 93.5v4.7M926.72 1552.5v-4.7M926.72 93.5v4.7M1040.03 1552.5v-4.7M1040.03 93.5v4.7M1153.34 1552.5v-4.7M1153.34 93.5v4.7M1266.65 1552.5v-8.4M1266.65 93.5v8.4M1379.96 1552.5v-4.7M1379.96 93.5v4.7M1493.27 1552.5v-4.7M1493.27 93.5v4.7M1606.58 1552.5v-4.7M1606.58 93.5v4.7M1719.89 1552.5v-4.7M1719.89 93.5v4.7M1833.20 1552.5v-8.4M1833.20 93.5v8.4M1946.51 1552.5v-4.7M1946.51 93.5v4.7M2059.82 1552.5v-4.7M2059.82 93.5v4.7M2173.13 1552.5v-4.7M2173.13 93.5v4.7M2286.44 1552.5v-4.7M2286.44 93.5v4.7M2399.75 1552.5v-8.4M2399.75 93.5v8.4M86.5 1512.40h4.7M2447.0 1512.40h-4.7M86.5 1444.95h4.7M2447.0 1444.95h-4.7M86.5 1377.50h4.7M2447.0 1377.50h-4.7M86.5 1310.05h8.4M2447.0 1310.05h-8.4M86.5 1242.60h4.7M2447.0 1242.60h-4.7M86.5 1175.15h4.7M2447.0 1175.15h-4.7M86.5 1107.70h4.7M2447.0 1107.70h-4.7M86.5 1040.25h4.7M2447.0 1040.25h-4.7M86.5 972.80h8.4M2447.0 972.80h-8.4M86.5 905.35h4.7M2447.0 905.35h-4.7M86.5 837.90h4.7M2447.0 837.90h-4.7M86.5 770.45h4.7M2447.0 770.45h-4.7M86.5 703.00h4.7M2447.0 703.00h-4.7M86.5 635.55h8.4M2447.0 635.55h-8.4M86.5 568.10h4.7M2447.0 568.10h-4.7M86.5 500.65h4.7M2447.0 500.65h-4.7M86.5 433.20h4.7M2447.0 433.20h-4.7M86.5 365.75h4.7M2447.0 365.75h-4.7M86.5 298.30h8.4M2447.0 298.30h-8.4M86.5 230.85h4.7M2447.0 230.85h-4.7M86.5 163.40h4.7M2447.0 163.40h-4.7M86.5 95.95h4.7M2447.0 95.95h-4.7" stroke="#666" stroke-width="1.35" fill="none"/>
<g font-family="'Liberation Sans','Noto Sans CJK SC',sans-serif" font-size="26.4" fill="#585858">
<text x="134.15" y="1582.5" text-anchor="middle">1000</text>
<text x="700.70" y="1582.5" text-anchor="middle">1500</text>
<text x="1267.25" y="1582.5" text-anchor="middle">2000</text>
<text x="1833.80" y="1582.5" text-anchor="middle">2500</text>
<text x="2400.35" y="1582.5" text-anchor="middle">3000</text>
<text x="78.6" y="1318.75" text-anchor="end">20</text>
<text x="78.6" y="981.50" text-anchor="end">30</text>
<text x="78.6" y="644.25" text-anchor="end">40</text>
<text x="78.6" y="307.00" text-anchor="end">50</text>
</g>
<circle cx="813.4" cy="500.45" r="8.5" fill="#5e81b5"/>
<circle cx="1673.6" cy="713.30" r="8.5" fill="#5e81b5"/>
<circle cx="813.4" cy="741.77" r="8.5" fill="#e19c24"/>
<circle cx="1673.6" cy="914.94" r="8.5" fill="#e19c24"/>
<circle cx="813.4" cy="904.40" r="8.5" fill="#8fb032"/>
<circle cx="1673.6" cy="1051.24" r="8.5" fill="#8fb032"/>
<circle cx="813.4" cy="1023.08" r="8.5" fill="#eb6235"/>
<circle cx="1673.6" cy="1150.96" r="8.5" fill="#eb6235"/>
<circle cx="813.4" cy="1114.34" r="8.5" fill="#8778b3"/>
<circle cx="1673.6" cy="1227.82" r="8.5" fill="#8778b3"/>
<path d="M845.40 424.45L991.60 424.45L991.60 471.65L859.20 471.65L836.10 480.55L845.40 455.05Z" fill="#eef1f8" stroke="#5e81b5" stroke-width="2.6" stroke-linejoin="miter" stroke-miterlimit="6"/>
<text x="918.50" y="455.65" text-anchor="middle" font-family="'Liberation Sans','Noto Sans CJK SC',sans-serif" font-size="25.9" fill="#000">1600, 44.0</text>
<path d="M845.40 665.77L991.60 665.77L991.60 712.97L859.20 712.97L836.10 721.87L845.40 696.37Z" fill="#fcf4e6" stroke="#e19c24" stroke-width="2.6" stroke-linejoin="miter" stroke-miterlimit="6"/>
<text x="918.50" y="696.97" text-anchor="middle" font-family="'Liberation Sans','Noto Sans CJK SC',sans-serif" font-size="25.9" fill="#000">1600, 36.8</text>
<path d="M845.40 828.40L991.60 828.40L991.60 875.60L859.20 875.60L836.10 884.50L845.40 859.00Z" fill="#f3f7e8" stroke="#8fb032" stroke-width="2.6" stroke-linejoin="miter" stroke-miterlimit="6"/>
<text x="918.50" y="859.60" text-anchor="middle" font-family="'Liberation Sans','Noto Sans CJK SC',sans-serif" font-size="25.9" fill="#000">1600, 32.0</text>
<path d="M636.50 1053.58L767.70 1053.58L791.00 1044.88L782.40 1068.78L782.40 1100.78L636.50 1100.78Z" fill="#fdede8" stroke="#eb6235" stroke-width="2.6" stroke-linejoin="miter" stroke-miterlimit="6"/>
<text x="709.45" y="1084.78" text-anchor="middle" font-family="'Liberation Sans','Noto Sans CJK SC',sans-serif" font-size="25.9" fill="#000">1600, 28.5</text>
<path d="M636.50 1144.84L767.70 1144.84L791.00 1136.14L782.40 1160.04L782.40 1192.04L636.50 1192.04Z" fill="#f2f0f8" stroke="#8778b3" stroke-width="2.6" stroke-linejoin="miter" stroke-miterlimit="6"/>
<text x="709.45" y="1176.04" text-anchor="middle" font-family="'Liberation Sans','Noto Sans CJK SC',sans-serif" font-size="25.9" fill="#000">1600, 25.8</text>
<path d="M1705.60 637.30L1851.80 637.30L1851.80 684.50L1719.40 684.50L1696.30 693.40L1705.60 667.90Z" fill="#eef1f8" stroke="#5e81b5" stroke-width="2.6" stroke-linejoin="miter" stroke-miterlimit="6"/>
<text x="1778.70" y="668.50" text-anchor="middle" font-family="'Liberation Sans','Noto Sans CJK SC',sans-serif" font-size="25.9" fill="#000">2360, 37.7</text>
<path d="M1705.60 838.94L1851.80 838.94L1851.80 886.14L1719.40 886.14L1696.30 895.04L1705.60 869.54Z" fill="#fcf4e6" stroke="#e19c24" stroke-width="2.6" stroke-linejoin="miter" stroke-miterlimit="6"/>
<text x="1778.70" y="870.14" text-anchor="middle" font-family="'Liberation Sans','Noto Sans CJK SC',sans-serif" font-size="25.9" fill="#000">2360, 31.7</text>
<path d="M1496.70 1081.74L1627.90 1081.74L1651.20 1073.04L1642.60 1096.94L1642.60 1128.94L1496.70 1128.94Z" fill="#f3f7e8" stroke="#8fb032" stroke-width="2.6" stroke-linejoin="miter" stroke-miterlimit="6"/>
<text x="1569.65" y="1112.94" text-anchor="middle" font-family="'Liberation Sans','Noto Sans CJK SC',sans-serif" font-size="25.9" fill="#000">2360, 27.7</text>
<path d="M1719.40 1128.26L1864.90 1128.26L1864.90 1174.96L1719.40 1174.96L1719.40 1158.06L1706.00 1152.36L1719.40 1144.56Z" fill="#fdede8" stroke="#eb6235" stroke-width="2.6" stroke-linejoin="miter" stroke-miterlimit="6"/>
<text x="1792.15" y="1159.46" text-anchor="middle" font-family="'Liberation Sans','Noto Sans CJK SC',sans-serif" font-size="25.9" fill="#000">2360, 24.7</text>
<path d="M1496.70 1258.32L1627.90 1258.32L1651.20 1249.62L1642.60 1273.52L1642.60 1305.52L1496.70 1305.52Z" fill="#f2f0f8" stroke="#8778b3" stroke-width="2.6" stroke-linejoin="miter" stroke-miterlimit="6"/>
<text x="1569.65" y="1289.52" text-anchor="middle" font-family="'Liberation Sans','Noto Sans CJK SC',sans-serif" font-size="25.9" fill="#000">2360, 22.4</text>
<g fill="#000">
<text x="840.6" y="70.4" font-family="'Noto Sans CJK SC','Liberation Sans',sans-serif" font-size="33.4" font-weight="300" textLength="305.6" lengthAdjust="spacing">横剪线理论剪切效率</text>
<text x="1163.00" y="70.4" font-family="'DejaVu Sans Mono','Liberation Mono',monospace" font-size="30.9" textLength="37.30" lengthAdjust="spacing">70</text>
<text transform="translate(1202.47 70.90) scale(0.616 1)" font-family="'Noto Sans CJK SC','Liberation Sans',sans-serif" font-size="30.5" font-weight="300">%</text>
<text x="1219.90" y="70.4" font-family="'DejaVu Sans Mono','Liberation Mono',monospace" font-size="30.9" textLength="93.40" lengthAdjust="spacing">Speed</text>
<text transform="translate(1336.86 71.10) scale(1.29 1)" font-family="'Noto Sans CJK SC','Liberation Sans',sans-serif" font-size="29.0" font-weight="300">(</text>
<text x="1353.10" y="70.4" font-family="'DejaVu Sans Mono','Liberation Mono',monospace" font-size="30.9" textLength="427.34" lengthAdjust="spacing">Winlion Automation 2024</text>
<text transform="translate(1784.70 68.70) scale(1.105 1)" font-family="'Noto Sans CJK SC','Liberation Sans',sans-serif" font-size="26.2" font-weight="300">/</text>
<text x="1800.60" y="70.4" font-family="'DejaVu Sans Mono','Liberation Mono',monospace" font-size="30.9" textLength="37.30" lengthAdjust="spacing">07</text>
<text transform="translate(1840.95 71.10) scale(1.29 1)" font-family="'Noto Sans CJK SC','Liberation Sans',sans-serif" font-size="29.0" font-weight="300">)</text>
</g>
<g fill="#000">
<text x="1189.00" y="1625.4" font-family="'DejaVu Sans Mono','Liberation Mono',monospace" font-size="30.9" textLength="224.16" lengthAdjust="spacing">sheet length</text>
<text transform="translate(1437.01 1626.10) scale(1.29 1)" font-family="'Noto Sans CJK SC','Liberation Sans',sans-serif" font-size="29.0" font-weight="300">(</text>
<text x="1451.50" y="1625.4" font-family="'DejaVu Sans Mono','Liberation Mono',monospace" font-size="30.9" textLength="37.30" lengthAdjust="spacing">mm</text>
<text transform="translate(1492.15 1626.10) scale(1.29 1)" font-family="'Noto Sans CJK SC','Liberation Sans',sans-serif" font-size="29.0" font-weight="300">)</text>
</g>
<g fill="#000" transform="translate(33 0) rotate(-90)">
<text x="-934.20" y="0" font-family="'DejaVu Sans Mono','Liberation Mono',monospace" font-size="30.9" textLength="112.80" lengthAdjust="spacing">sheets</text>
<text transform="translate(-818.10 -1.70) scale(1.105 1)" font-family="'Noto Sans CJK SC','Liberation Sans',sans-serif" font-size="26.2" font-weight="300">/</text>
<text x="-802.00" y="0" font-family="'DejaVu Sans Mono','Liberation Mono',monospace" font-size="30.9" textLength="56.40" lengthAdjust="spacing">min</text>
</g>
</svg></body></html>
